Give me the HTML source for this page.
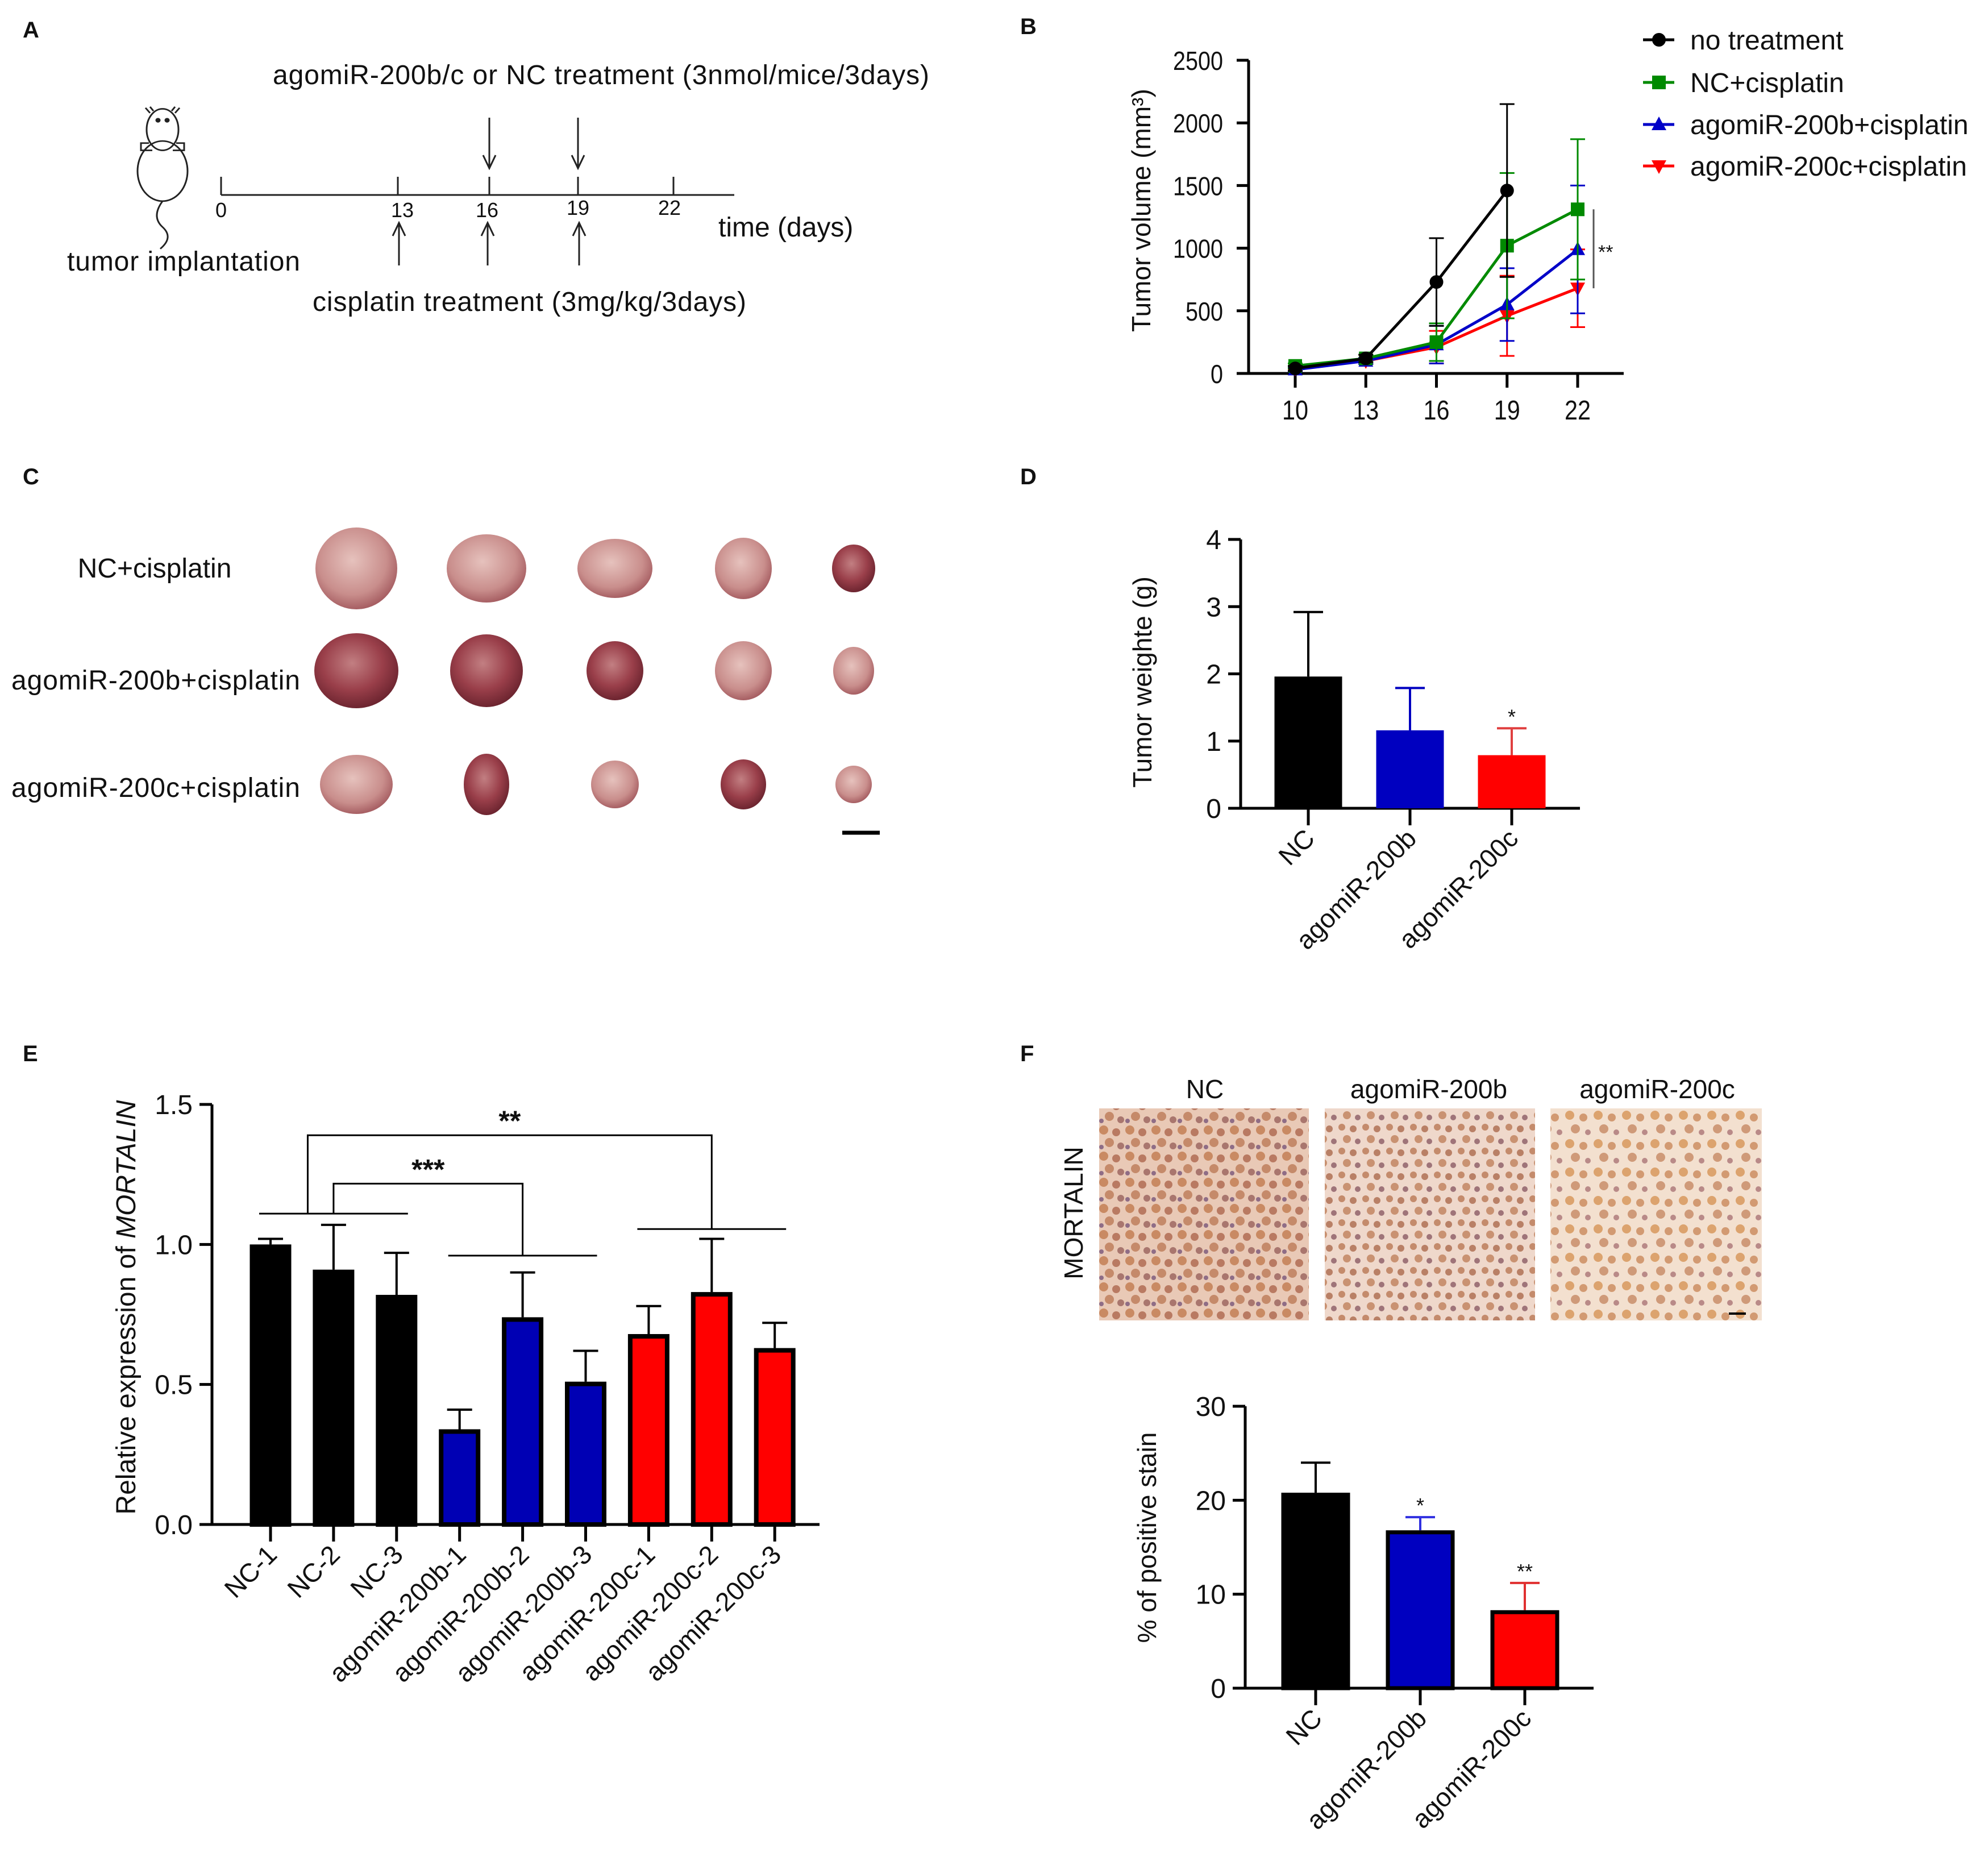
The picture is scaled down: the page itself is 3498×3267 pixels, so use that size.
<!DOCTYPE html>
<html><head><meta charset="utf-8"><style>
html,body{margin:0;padding:0;background:#fff}
svg{display:block;font-family:"Liberation Sans",Arial,sans-serif}
</style></head><body>
<svg id="fig" xmlns="http://www.w3.org/2000/svg" width="3498" height="3267" viewBox="0 0 3498 3267">
<defs>
<radialGradient id="tumorLight" cx="45%" cy="40%" r="60%"><stop offset="0" stop-color="#e6c2bd"/><stop offset="0.7" stop-color="#c98e8c"/><stop offset="1" stop-color="#a75f63"/></radialGradient>
<radialGradient id="tumorDark" cx="45%" cy="40%" r="60%"><stop offset="0" stop-color="#c27f82"/><stop offset="0.6" stop-color="#9a3f4a"/><stop offset="1" stop-color="#6d2530"/></radialGradient>
<pattern id="histoA" width="46" height="46" patternUnits="userSpaceOnUse">
<rect width="46" height="46" fill="#e9c9b6"/>
<circle cx="10" cy="10" r="8" fill="#c98a63"/><circle cx="32" cy="14" r="7" fill="#b97a62"/><circle cx="20" cy="32" r="8" fill="#c58a6a"/><circle cx="40" cy="38" r="6" fill="#a9766e"/><circle cx="6" cy="40" r="4" fill="#8f6d86"/>
</pattern>
<pattern id="histoB" width="42" height="42" patternUnits="userSpaceOnUse">
<rect width="42" height="42" fill="#efd8cb"/>
<circle cx="9" cy="9" r="6" fill="#c48b6c"/><circle cx="29" cy="12" r="6" fill="#b98066"/><circle cx="18" cy="30" r="7" fill="#c99272"/><circle cx="37" cy="34" r="5" fill="#9f7479"/>
</pattern>
<pattern id="histoC" width="50" height="50" patternUnits="userSpaceOnUse">
<rect width="50" height="50" fill="#f3e0cf"/>
<circle cx="12" cy="12" r="8" fill="#dca36e"/><circle cx="36" cy="16" r="7" fill="#d29a72"/><circle cx="22" cy="36" r="8" fill="#cf9a79"/><circle cx="44" cy="42" r="5" fill="#b98a88"/>
</pattern>
</defs>

<!-- Panel A -->
<g font-size="48" fill="#111">
<text x="40" y="66" font-weight="bold" font-size="40">A</text>
<text x="480" y="148" textLength="1155">agomiR-200b/c or NC treatment (3nmol/mice/3days)</text>
<g fill="none" stroke="#222" stroke-width="3" transform="scale(1,0.912)">
<ellipse cx="286" cy="330" rx="44" ry="58"/>
<ellipse cx="286" cy="250" rx="28" ry="40"/>
<path d="M262 276 l-14 0 l0 14 l20 0 M310 276 l14 0 l0 14 l-20 0"/>
<path d="M264 218 l-8 -10 M308 218 l8 -10 M270 214 l-6 -8 M302 214 l6 -8"/>
<path d="M286 388 q-20 30 0 50 q20 20 -4 42"/>
<circle cx="278" cy="232" r="3" fill="#222"/><circle cx="294" cy="232" r="3" fill="#222"/>
</g>
<g stroke="#222" stroke-width="3">
<line x1="389" y1="343" x2="1292" y2="343"/>
<line x1="389" y1="311" x2="389" y2="343"/>
<line x1="700" y1="311" x2="700" y2="343"/>
<line x1="861" y1="311" x2="861" y2="343"/>
<line x1="1017" y1="311" x2="1017" y2="343"/>
<line x1="1185" y1="311" x2="1185" y2="343"/>
</g>
<g font-size="36" text-anchor="middle">
<text x="389" y="382">0</text><text x="708" y="382">13</text><text x="857" y="382">16</text><text x="1017" y="378">19</text><text x="1178" y="378">22</text>
</g>
<g stroke="#222" stroke-width="3" fill="none">
<line x1="861" y1="207" x2="861" y2="296"/><path d="M850 273 L861 296 L872 273"/>
<line x1="1017" y1="207" x2="1017" y2="296"/><path d="M1006 273 L1017 296 L1028 273"/>
</g>
<g stroke="#222" stroke-width="3" fill="none">
<line x1="702" y1="467" x2="702" y2="392"/><path d="M691 415 L702 392 L713 415"/>
<line x1="858" y1="467" x2="858" y2="392"/><path d="M847 415 L858 392 L869 415"/>
<line x1="1019" y1="467" x2="1019" y2="392"/><path d="M1008 415 L1019 392 L1030 415"/>
</g>
<text x="1264" y="416">time (days)</text>
<text x="118" y="476" textLength="410">tumor implantation</text>
<text x="550" y="547" textLength="763">cisplatin treatment (3mg/kg/3days)</text>
</g>

<!-- Panel C -->
<g font-size="48" fill="#111">
<text x="40" y="852" font-weight="bold" font-size="40">C</text>
<text x="272" y="1016" text-anchor="middle">NC+cisplatin</text>
<text x="20" y="1213" textLength="508">agomiR-200b+cisplatin</text>
<text x="20" y="1402" textLength="508">agomiR-200c+cisplatin</text>
<g id="tumors"></g>
<line x1="1482" y1="1465" x2="1548" y2="1465" stroke="#000" stroke-width="7"/>
</g>

<!-- Panel B -->
<g id="panelB" fill="#111">
<text x="1795" y="60" font-weight="bold" font-size="40">B</text>
</g>

<!-- Panel D -->
<g id="panelD" fill="#111">
<text x="1795" y="852" font-weight="bold" font-size="40">D</text>
</g>

<!-- Panel E -->
<g id="panelE" fill="#111">
<text x="40" y="1867" font-weight="bold" font-size="40">E</text>
</g>

<!-- Panel F -->
<g id="panelF" fill="#111">
<text x="1795" y="1867" font-weight="bold" font-size="40">F</text>
<g font-size="46" text-anchor="middle">
<text x="2120" y="1932">NC</text>
<text x="2514" y="1932">agomiR-200b</text>
<text x="2916" y="1932">agomiR-200c</text>
</g>
<rect x="1934" y="1950" width="369" height="373" fill="url(#histoA)"/>
<rect x="2331" y="1950" width="370" height="373" fill="url(#histoB)"/>
<rect x="2728" y="1950" width="372" height="373" fill="url(#histoC)"/>
<line x1="3042" y1="2311" x2="3072" y2="2311" stroke="#000" stroke-width="4"/>
<text transform="translate(1905,2134) rotate(-90)" text-anchor="middle" font-size="46">MORTALIN</text>
</g>
</svg>
<script>
// ---------- Panel B data ----------
const bDays = [10, 13, 16, 19, 22];
const bYTicks = [0, 500, 1000, 1500, 2000, 2500];
const bSeriesNames = ["no treatment", "NC+cisplatin", "agomiR-200b+cisplatin", "agomiR-200c+cisplatin"];
const bNoTreatment = [40, 120, 730, 1460, null];
const bNoTreatmentErr = [20, 30, 350, 690, null];
const bNC = [60, 120, 250, 1020, 1310];
const bNCErr = [20, 30, 150, 580, 560];
const b200b = [30, 100, 230, 550, 990];
const b200bErr = [15, 25, 150, 290, 510];
const b200c = [40, 100, 210, 460, 680];
const b200cErr = [15, 25, 130, 320, 310];

// ---------- Panel D data ----------
const dCats = ["NC", "agomiR-200b", "agomiR-200c"];
const dVals = [1.96, 1.16, 0.79];
const dErr = [0.96, 0.63, 0.40];
const dYTicks = [0, 1, 2, 3, 4];
const dStars = ["", "", "*"];

// ---------- Panel E data ----------
const eCats = ["NC-1","NC-2","NC-3","agomiR-200b-1","agomiR-200b-2","agomiR-200b-3","agomiR-200c-1","agomiR-200c-2","agomiR-200c-3"];
const eVals = [1.00, 0.91, 0.82, 0.34, 0.74, 0.51, 0.68, 0.83, 0.63];
const eErr = [0.02, 0.16, 0.15, 0.07, 0.16, 0.11, 0.10, 0.19, 0.09];
const eYTicks = [0.0, 0.5, 1.0, 1.5];
const eYTickLabels = ["0.0", "0.5", "1.0", "1.5"];
const eGroupLevels = [1.11, 0.96, 1.055];
const eBracketTops = [1.217, 1.39];
const eBracketLabels = ["***", "**"];

// ---------- Panel F data ----------
const fCats = ["NC", "agomiR-200b", "agomiR-200c"];
const fVals = [20.8, 16.8, 8.3];
const fErr = [3.2, 1.4, 2.9];
const fYTicks = [0, 10, 20, 30];
const fStars = ["", "*", "**"];

const NS = "http://www.w3.org/2000/svg";
function mk(tag, attrs, parent) {
  const e = document.createElementNS(NS, tag);
  for (const k in attrs) e.setAttribute(k, attrs[k]);
  parent.appendChild(e);
  return e;
}
function txt(parent, x, y, s, attrs) {
  const t = mk("text", Object.assign({x: x, y: y}, attrs || {}), parent);
  t.textContent = s;
  return t;
}

// ---------- Tumors (photo substitute) ----------
(function(){
  const g = document.getElementById("tumors");
  const cols = [627, 856, 1082, 1308, 1502];
  const rows = [1000, 1180, 1380];
  const sizes = [[[72,72],[70,60],[66,52],[50,54],[38,42]],[[74,66],[64,64],[50,52],[50,52],[36,42]],[[64,52],[40,54],[42,42],[40,44],[32,33]]];
  const dark = [[0,0,0,0,1],[1,1,1,0,0],[0,1,0,1,0]];
  rows.forEach((cy, r) => cols.forEach((cx, c) => {
    const e = mk("ellipse", {cx: cx, cy: cy, rx: sizes[r][c][0], ry: sizes[r][c][1], fill: dark[r][c] ? "url(#tumorDark)" : "url(#tumorLight)"}, g);
    
    
  }));
})();

// ---------- Panel B ----------
(function(){
  const g = document.getElementById("panelB");
  const X0 = 2279, X1 = 2776, Y0 = 657, Y1 = 106;
  const xB = d => X0 + (d - bDays[0]) * (X1 - X0) / (bDays[bDays.length-1] - bDays[0]);
  const yB = v => Y0 - (v - bYTicks[0]) * (Y0 - Y1) / (bYTicks[bYTicks.length-1] - bYTicks[0]);
  const axis = mk("g", {stroke: "#000", "stroke-width": 5}, g);
  
  
  mk("line", {x1: 2197, y1: Y1, x2: 2197, y2: Y0}, axis);
  mk("line", {x1: 2197, y1: Y0, x2: 2857, y2: Y0}, axis);
  bYTicks.forEach(v => {
    mk("line", {x1: 2176, y1: yB(v), x2: 2197, y2: yB(v)}, axis);
    const t = txt(g, 2152, yB(v) + 17, String(v), {"text-anchor": "end", "font-size": 46, textLength: String(v).length * 22, lengthAdjust: "spacingAndGlyphs"});
    
    
  });
  bDays.forEach(d => {
    mk("line", {x1: xB(d), y1: Y0, x2: xB(d), y2: Y0 + 25}, axis);
    const t = txt(g, xB(d), 738, String(d), {"text-anchor": "middle", "font-size": 48, textLength: 46, lengthAdjust: "spacingAndGlyphs"});
    
    
  });
  const yl = txt(g, 0, 0, "Tumor volume (mm³)", {transform: "translate(2024,370) rotate(-90)", "text-anchor": "middle", "font-size": 46});
  
  

  const series = [
    {vals: bNoTreatment, err: bNoTreatmentErr, color: "#000000", shape: "circle", key: "no-treatment"},
    {vals: bNC, err: bNCErr, color: "#008a00", shape: "square", key: "nc-cisplatin"},
    {vals: b200b, err: b200bErr, color: "#0000c8", shape: "tri-up", key: "200b-cisplatin"},
    {vals: b200c, err: b200cErr, color: "#ff0000", shape: "tri-down", key: "200c-cisplatin"}
  ];
  function marker(parent, shape, x, y, color) {
    let m;
    if (shape === "circle") m = mk("circle", {cx: x, cy: y, r: 12, fill: color}, parent);
    else if (shape === "square") m = mk("rect", {x: x - 12, y: y - 12, width: 24, height: 24, fill: color}, parent);
    else if (shape === "tri-up") m = mk("path", {d: `M${x} ${y-14} L${x+13} ${y+10} L${x-13} ${y+10} Z`, fill: color}, parent);
    else m = mk("path", {d: `M${x} ${y+14} L${x+13} ${y-10} L${x-13} ${y-10} Z`, fill: color}, parent);
    return m;
  }
  series.slice().reverse().forEach(s => {
    const sg = mk("g", {}, g);
    
    
    let d = "";
    s.vals.forEach((v, i) => {
      if (v === null) return;
      d += (d ? " L" : "M") + xB(bDays[i]) + " " + yB(v);
      const e = s.err[i];
      const x = xB(bDays[i]);
      const eb = mk("path", {d: `M${x} ${yB(v - e)} L${x} ${yB(v + e)} M${x-13} ${yB(v+e)} L${x+13} ${yB(v+e)} M${x-13} ${yB(v-e)} L${x+13} ${yB(v-e)}`, stroke: s.color, "stroke-width": 3, fill: "none"}, sg);
      
      
    });
    const line = mk("path", {d: d, stroke: s.color, "stroke-width": 5, fill: "none"}, sg);
    
    
    s.vals.forEach((v, i) => {
      if (v === null) return;
      const m = marker(sg, s.shape, xB(bDays[i]), yB(v), s.color);
      
      
    });
  });
  const sig = mk("line", {x1: 2804, y1: yB(bNC[4]), x2: 2804, y2: yB(b200c[4]), stroke: "#555", "stroke-width": 3}, g);
  
  
  const st = txt(g, 2812, 455, "**", {"font-size": 34});
  
  
  const lg = mk("g", {}, g);
  
  
  const ly = [70, 145, 219, 292];
  series.forEach((s, i) => {
    const ent = mk("g", {}, lg);
    
    
    mk("line", {x1: 2891, y1: ly[i], x2: 2946, y2: ly[i], stroke: s.color, "stroke-width": 5}, ent);
    marker(ent, s.shape, 2919, ly[i], s.color);
    txt(ent, 2974, ly[i] + 17, bSeriesNames[i], {"font-size": 48});
  });
})();

// ---------- generic bar chart ----------
function barChart(o) {
  const g = o.g;
  const y = v => o.Y0 - (v - o.ticks[0]) * (o.Y0 - o.Y1) / (o.ticks[o.ticks.length-1] - o.ticks[0]);
  const x = i => o.xFirst + i * o.xStep;
  const axis = mk("g", {stroke: "#000", "stroke-width": o.axisW}, g);
  
  
  mk("line", {x1: o.AX, y1: o.Y1, x2: o.AX, y2: o.Y0}, axis);
  mk("line", {x1: o.AX - o.axisW/2, y1: o.Y0, x2: o.AXend, y2: o.Y0}, axis);
  o.ticks.forEach((v, i) => {
    mk("line", {x1: o.AX - 22, y1: y(v), x2: o.AX, y2: y(v)}, axis);
    const t = txt(g, o.AX - 34, y(v) + 17, o.tickLabels ? o.tickLabels[i] : String(v), {"text-anchor": "end", "font-size": 48});
    
    
  });
  o.vals.forEach((v, i) => {
    const cx = x(i), col = o.colors[i];
    const e = o.err[i];
    const eb = mk("path", {d: `M${cx} ${y(v)} L${cx} ${y(v+e)} M${cx-o.capW} ${y(v+e)} L${cx+o.capW} ${y(v+e)}`, stroke: o.errColors ? o.errColors[i] : "#000", "stroke-width": 4, fill: "none"}, g);
    
    
    const sw = o.outline;
    const r = mk("rect", {x: cx - o.bw/2 + sw/2, y: y(v) + sw/2, width: o.bw - sw, height: Math.max(0, o.Y0 - y(v) - sw/2), fill: col, stroke: sw ? "#000" : "none", "stroke-width": sw}, g);
    
    
    mk("line", {x1: cx, y1: o.Y0, x2: cx, y2: o.Y0 + 30, stroke: "#000", "stroke-width": o.axisW}, axis);
    const lbl = txt(g, 0, 0, o.cats[i], {transform: `translate(${cx + 14},${o.Y0 + 56}) rotate(-45)`, "text-anchor": "end", "font-size": o.labelSize});
    
    
    if (o.stars && o.stars[i]) {
      const s = txt(g, cx, y(v + e) - 8, o.stars[i], {"text-anchor": "middle", "font-size": 36});
      
      
    }
  });
  if (o.yTitle) {
    const yl = txt(g, 0, 0, o.yTitle, {transform: `translate(${o.ytX},${o.ytY}) rotate(-90)`, "text-anchor": "middle", "font-size": 46});
    
    
  }
  return {x: x, y: y};
}

barChart({g: document.getElementById("panelD"), key: "d", cats: dCats, vals: dVals, err: dErr, ticks: dYTicks,
  colors: ["#000000", "#0000c0", "#ff0000"], errColors: ["#000000", "#0000c0", "#e04040"], stars: dStars,
  AX: 2183, AXend: 2780, Y0: 1422, Y1: 949, xFirst: 2302, xStep: 179, bw: 119, capW: 26, outline: 0, axisW: 5,
  labelSize: 46, yTitle: "Tumor weighte (g)", ytX: 2026, ytY: 1200});

(function(){
  const g = document.getElementById("panelE");
  const sc = barChart({g: g, key: "e", cats: eCats, vals: eVals, err: eErr, ticks: eYTicks, tickLabels: eYTickLabels,
    colors: ["#000","#000","#000","#0000b4","#0000b4","#0000b4","#ff0000","#ff0000","#ff0000"], stars: null,
    AX: 373, AXend: 1442, Y0: 2682, Y1: 1943, xFirst: 476, xStep: 110.9, bw: 73, capW: 22, outline: 8, axisW: 5,
    labelSize: 46, yTitle: "", ytX: 225, ytY: 2300});
  const t = mk("text", {transform: "translate(238,2300) rotate(-90)", "text-anchor": "middle", "font-size": 48}, g);
  
  
  t.appendChild(document.createTextNode("Relative expression of "));
  const it = mk("tspan", {"font-style": "italic"}, t); it.textContent = "MORTALIN";
  const groups = [[0,2],[3,5],[6,8]];
  const br = mk("g", {stroke: "#000", "stroke-width": 3, fill: "none"}, g);
  
  
  groups.forEach((gr, i) => {
    mk("line", {x1: sc.x(gr[0]) - 20, y1: sc.y(eGroupLevels[i]), x2: sc.x(gr[1]) + 20, y2: sc.y(eGroupLevels[i])}, br);
  });
  const xa = sc.x(1), xb = sc.x(4);
  mk("path", {d: `M${xa} ${sc.y(eGroupLevels[0])} L${xa} ${sc.y(eBracketTops[0])} L${xb} ${sc.y(eBracketTops[0])} L${xb} ${sc.y(eGroupLevels[1])}`}, br);
  const xc = (sc.x(0) + sc.x(1)) / 2 + 10, xd = sc.x(7);
  mk("path", {d: `M${xc} ${sc.y(eGroupLevels[0])} L${xc} ${sc.y(eBracketTops[1])} L${xd} ${sc.y(eBracketTops[1])} L${xd} ${sc.y(eGroupLevels[2])}`}, br);
  const l1 = txt(g, (xa + xb) / 2, sc.y(eBracketTops[0]) - 8, eBracketLabels[0], {"text-anchor": "middle", "font-size": 50, "font-weight": "bold"});
  
  
  const l2 = txt(g, (xc + xd) / 2, sc.y(eBracketTops[1]) - 8, eBracketLabels[1], {"text-anchor": "middle", "font-size": 50, "font-weight": "bold"});
  
  
})();

barChart({g: document.getElementById("panelF"), key: "f", cats: fCats, vals: fVals, err: fErr, ticks: fYTicks,
  colors: ["#000000", "#0000c0", "#ff0000"], errColors: ["#000000", "#3030e0", "#e03030"], stars: fStars,
  AX: 2191, AXend: 2804, Y0: 2970, Y1: 2474, xFirst: 2315, xStep: 184, bw: 121, capW: 26, outline: 7, axisW: 5,
  labelSize: 46, yTitle: "% of positive stain", ytX: 2034, ytY: 2705});
</script>
</body></html>
